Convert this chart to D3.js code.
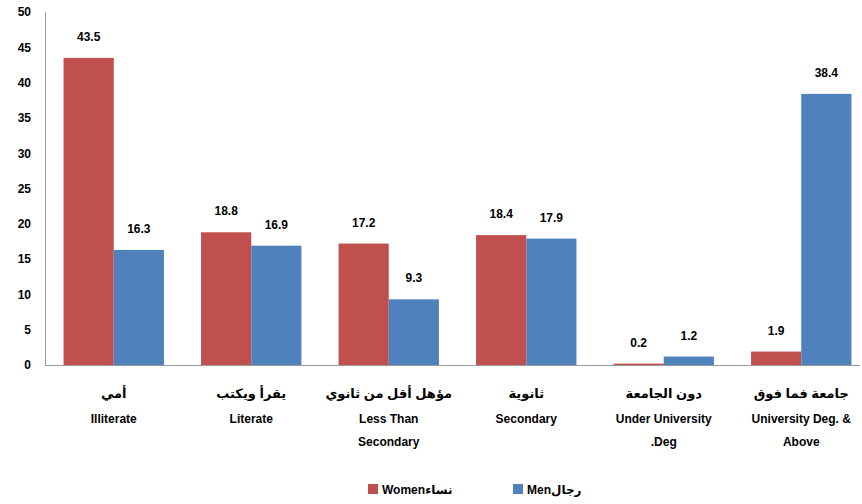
<!DOCTYPE html>
<html><head><meta charset="utf-8">
<script src="https://cdn.jsdelivr.net/npm/d3@7"></script>
<style>
body{margin:0;background:#fff;}
text{font-family:"Liberation Sans","DejaVu Sans",Arial,sans-serif;font-weight:bold;fill:#000;}
</style></head>
<body>
<svg id="c" width="862" height="504"></svg>
<script>
const categoriesAr = ["أمي","يقرأ ويكتب","مؤهل أقل من ثانوي","ثانوية","دون الجامعة","جامعة فما فوق"];
const categoriesEn = [["Illiterate"],["Literate"],["Less Than","Secondary"],["Secondary"],["Under University",".Deg"],["University Deg. &","Above"]];
const women = [43.5,18.8,17.2,18.4,0.2,1.9];
const men = [16.3,16.9,9.3,17.9,1.2,38.4];
const seriesNames = ["Womenنساء","Menرجال"];
const colors = ["#C0504D","#4F81BD"];
const yTicks = [0,5,10,15,20,25,30,35,40,45,50];

(function(){
const svg = d3.select("#c");
const mLeft = 45, mRight = 870, mTop = 12, mBottom = 365;
const x = d3.scaleBand().domain(d3.range(categoriesAr.length)).range([mLeft,mRight]).paddingInner(0.27).paddingOuter(0.135);
const xs = d3.scaleBand().domain([0,1]).range([0,x.bandwidth()]);
const y = d3.scaleLinear().domain([0,50]).range([mBottom,mTop]);

const ya = svg.append("g").attr("transform",`translate(${mLeft},0)`)
  .call(d3.axisLeft(y).tickValues(yTicks).tickSize(0).tickPadding(14));
ya.select(".domain").attr("stroke","#999");
ya.selectAll("text").attr("font-size",12).style("font-family","Liberation Sans, Arial, sans-serif").style("font-weight","bold");
svg.append("line").attr("x1",mLeft).attr("x2",860).attr("y1",mBottom+0.5).attr("y2",mBottom+0.5).attr("stroke","#999");

const series = [women,men];
series.forEach((vals,si)=>{
  const g = svg.append("g");
  g.selectAll("rect").data(vals).join("rect")
    .attr("x",(d,i)=>x(i)+xs(si))
    .attr("width",xs.bandwidth())
    .attr("y",d=>y(d))
    .attr("height",d=>mBottom-y(d))
    .attr("fill",colors[si]);
  g.selectAll("text").data(vals).join("text")
    .attr("x",(d,i)=>x(i)+xs(si)+xs.bandwidth()/2)
    .attr("y",d=>y(d)-17)
    .attr("text-anchor","middle")
    .attr("font-size",12)
    .text(d=>d.toFixed(1));
});

const cg = svg.append("g");
categoriesAr.forEach((c,i)=>{
  const cx = x(i)+x.bandwidth()/2;
  cg.append("text").attr("x",cx).attr("y",398).attr("text-anchor","middle").attr("font-size",13).text(c);
  categoriesEn[i].forEach((l,j)=>{
    cg.append("text").attr("x",cx).attr("y",423+j*23).attr("text-anchor","middle").attr("font-size",12).text(l);
  });
});

const lg = svg.append("g");
const lx = [368,513];
seriesNames.forEach((n,i)=>{
  lg.append("rect").attr("x",lx[i]).attr("y",484).attr("width",10).attr("height",10).attr("fill",colors[i]);
  lg.append("text").attr("x",lx[i]+14).attr("y",494).attr("font-size",12).text(n);
});
})();
</script>
</body></html>
